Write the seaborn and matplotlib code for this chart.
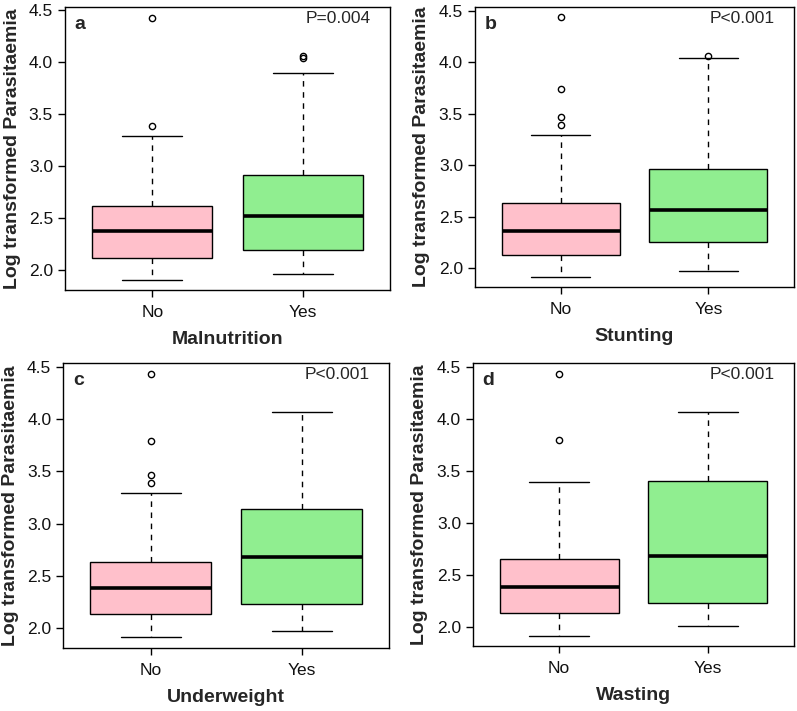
import numpy as np
import matplotlib
matplotlib.use("Agg")
import matplotlib.pyplot as plt
import seaborn as sns

# ==========================================
# Data
# ==========================================
groups = ["No", "Yes"]
letters = ["a", "b", "c", "d"]
xlabels = ["Malnutrition", "Stunting", "Underweight", "Wasting"]
pvalues = ["P=0.004", "P<0.001", "P<0.001", "P<0.001"]
box_colors = ["pink", "lightgreen"]

# five numbers per box: lower whisker, Q1, median, Q3, upper whisker
mal_no = [1.910, 2.115, 2.374, 2.614, 3.295]
mal_yes = [1.962, 2.198, 2.524, 2.914, 3.899]
stu_no = [1.916, 2.129, 2.361, 2.628, 3.292]
stu_yes = [1.971, 2.251, 2.567, 2.966, 4.043]
und_no = [1.910, 2.137, 2.380, 2.630, 3.295]
und_yes = [1.974, 2.230, 2.684, 3.141, 4.065]
was_no = [1.917, 2.138, 2.382, 2.655, 3.390]
was_yes = [2.013, 2.231, 2.680, 3.399, 4.067]

# outliers
mal_no_out = [3.387, 4.430]
mal_yes_out = [4.040, 4.060]
stu_no_out = [3.389, 3.465, 3.743, 4.436]
stu_yes_out = [4.065]
und_no_out = [3.391, 3.464, 3.790, 4.436]
und_yes_out = []
was_no_out = [3.794, 4.436]
was_yes_out = []

panels = [
    (mal_no, mal_yes, mal_no_out, mal_yes_out),
    (stu_no, stu_yes, stu_no_out, stu_yes_out),
    (und_no, und_yes, und_no_out, und_yes_out),
    (was_no, was_yes, was_no_out, was_yes_out),
]

# axes rectangles in figure fractions (left, bottom, width, height)
rects = [
    (0.0816, 0.5921, 0.4078, 0.3980),
    (0.5960, 0.5963, 0.4003, 0.3938),
    (0.0794, 0.0886, 0.4090, 0.4008),
    (0.5935, 0.0914, 0.4028, 0.3980),
]

# ==========================================
# Plot
# ==========================================
sns.set_theme(style="ticks")
plt.rcParams['font.family'] = ['Liberation Sans', 'DejaVu Sans']
plt.rcParams['axes.edgecolor'] = 'black'
plt.rcParams['axes.linewidth'] = 1.0

fig = plt.figure(figsize=(7.97, 7.11), dpi=100)

for i, (no5, yes5, no_out, yes_out) in enumerate(panels):
    ax = fig.add_axes(rects[i])

    stats = []
    for g, five, out in zip(groups, [no5, yes5], [no_out, yes_out]):
        stats.append(dict(label=g, whislo=five[0], q1=five[1], med=five[2],
                          q3=five[3], whishi=five[4], fliers=np.array(out)))

    res = ax.bxp(stats, positions=[1, 2], widths=0.8, capwidths=0.4,
                 patch_artist=True,
                 boxprops=dict(edgecolor='black', linewidth=1.0),
                 medianprops=dict(color='black', linewidth=2.6, solid_capstyle='butt'),
                 whiskerprops=dict(color='black', linewidth=1.0, linestyle=(0, (4, 4))),
                 capprops=dict(color='black', linewidth=1.0),
                 flierprops=dict(marker='o', markerfacecolor='none', markeredgecolor='black',
                                 markersize=4.5, markeredgewidth=1.0))
    for box, c in zip(res['boxes'], box_colors):
        box.set_facecolor(c)

    # R-style limits: data range plus 4 %
    allv = np.concatenate([no5, yes5, no_out, yes_out])
    r = allv.max() - allv.min()
    ax.set_ylim(allv.min() - 0.04 * r, allv.max() + 0.04 * r)
    ax.set_xlim(0.42, 2.58)
    ax.set_yticks([2.0, 2.5, 3.0, 3.5, 4.0, 4.5])
    ax.set_yticklabels([f"{v:.1f}" for v in [2.0, 2.5, 3.0, 3.5, 4.0, 4.5]])
    ax.set_xticks([1, 2])
    ax.set_xticklabels(groups)

    ax.tick_params(axis='both', length=5, width=1.0, color='black', labelsize=12.5,
                   labelcolor='#111111')
    ax.tick_params(axis='y', pad=3.6)
    ax.tick_params(axis='x', pad=6)

    ax.set_ylabel("Log transformed Parasitaemia", fontsize=14, fontweight='bold', labelpad=6)
    ax.set_xlabel(xlabels[i], fontsize=14, fontweight='bold', labelpad=8)

    ax.text(0.03, 0.922, letters[i], transform=ax.transAxes, fontsize=14,
            fontweight='bold', ha='left', va='baseline')
    ax.text(0.94, 0.943, pvalues[i], transform=ax.transAxes, fontsize=12.5,
            ha='right', va='baseline')

fig.savefig("out.png", dpi=100)
